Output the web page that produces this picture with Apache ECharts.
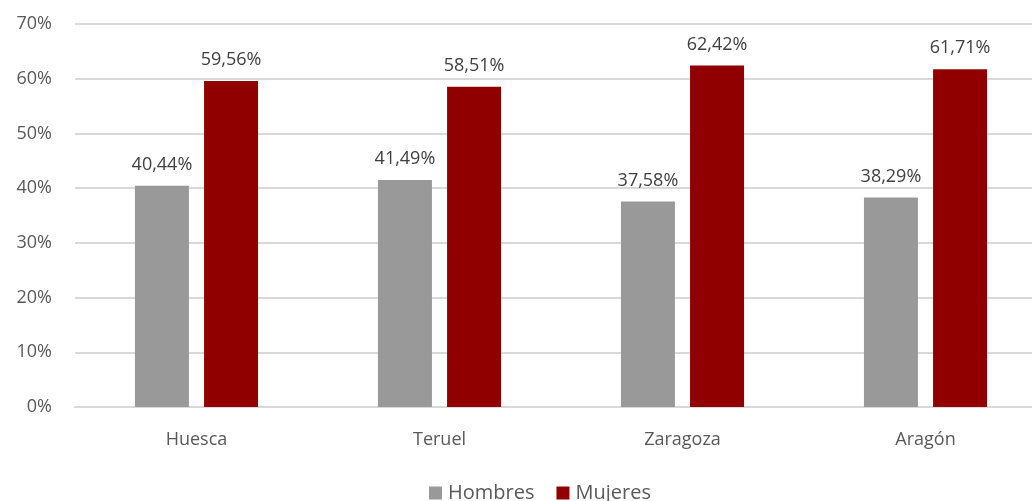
<!DOCTYPE html>
<html>
<head>
<meta charset="utf-8">
<script src="https://cdn.jsdelivr.net/npm/echarts@6/dist/echarts.min.js"></script>
<style>
  html, body { margin: 0; padding: 0; background: #fff; overflow: hidden; }
  /* a bit wider than the window: the plot runs past the right edge, like the original */
  #chart { width: 1047px; height: 501px; }
</style>
</head>
<body>
<div id="chart"></div>
<script>
var categories = ['Huesca', 'Teruel', 'Zaragoza', 'Aragón'];
var hombres = [40.44, 41.49, 37.58, 38.29];
var mujeres = [59.56, 58.51, 62.42, 61.71];
var yTicks = [0, 10, 20, 30, 40, 50, 60, 70];

var font = "'Open Sans', 'Liberation Sans', sans-serif";

function pct(v) {
    return v.toFixed(2).replace('.', ',') + '%';
}

var myChart = echarts.init(document.getElementById('chart'));

var option = {
    animation: false,
    textStyle: { fontFamily: font },
    grid: { left: 75, right: 0, top: 24, bottom: 94 },
    legend: {
        bottom: -7,
        left: 424,
        itemWidth: 13,
        itemHeight: 13,
        itemGap: 22,
        icon: 'rect',
        textStyle: { fontSize: 20, color: '#595959', fontFamily: font, padding: [0, 0, 0, 1] },
        data: ['Hombres', 'Mujeres']
    },
    xAxis: {
        type: 'category',
        data: categories,
        axisLine: { lineStyle: { color: '#d9d9d9', width: 2 } },
        axisTick: { show: false },
        axisLabel: { fontSize: 18, color: '#595959', margin: 24 }
    },
    yAxis: {
        type: 'value',
        min: yTicks[0],
        max: yTicks[yTicks.length - 1],
        interval: 10,
        axisLine: { show: false },
        axisTick: { show: false },
        axisLabel: {
            fontSize: 18, color: '#595959', margin: 23,
            formatter: function (v) { return v + '%'; }
        },
        splitLine: { lineStyle: { color: '#d9d9d9', width: 2 } }
    },
    series: [
        {
            name: 'Hombres',
            type: 'bar',
            data: hombres,
            barWidth: 54,
            barGap: '28%',
            itemStyle: { color: '#999999' },
            label: {
                show: true, position: 'top', distance: 12,
                fontSize: 18, color: '#404040',
                formatter: function (p) { return pct(p.value); }
            }
        },
        {
            name: 'Mujeres',
            type: 'bar',
            data: mujeres,
            barWidth: 54,
            itemStyle: { color: '#900000' },
            label: {
                show: true, position: 'top', distance: 12,
                fontSize: 18, color: '#404040',
                formatter: function (p) { return pct(p.value); }
            }
        }
    ]
};

myChart.setOption(option);
</script>
</body>
</html>
